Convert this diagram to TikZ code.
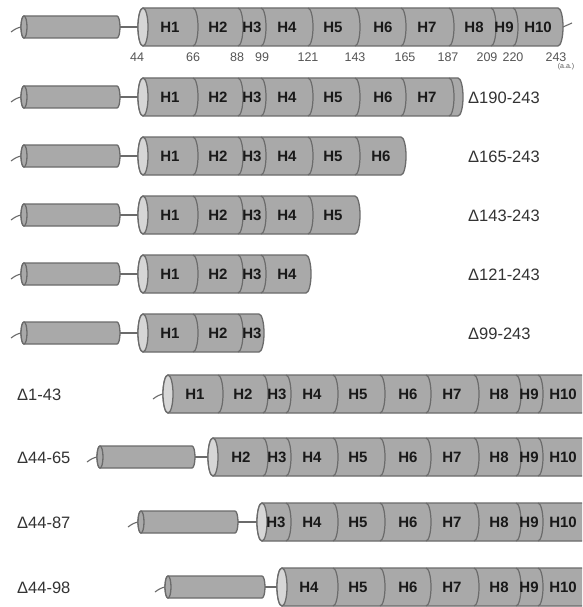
\documentclass[tikz,border=0pt]{standalone}
\usepackage{fontspec}
\setmainfont{Liberation Sans}
\definecolor{cylgray}{HTML}{A9A9A9}
\definecolor{cyledge}{HTML}{6B6B6B}
\definecolor{cylface}{HTML}{D6D6D6}
\definecolor{labgray}{HTML}{333333}
\definecolor{tickgray}{HTML}{555555}
\newcommand{\BigBody}[3]{% x0, x1, yc
  \draw[cylbody] (#1,#3-19) -- (#2,#3-19) arc[start angle=-90,end angle=90,x radius=5,y radius=19] -- (#1,#3+19) arc[start angle=90,end angle=270,x radius=5,y radius=19] -- cycle;
  \draw[cylbody,fill=cylface] (#1,#3) ellipse[x radius=5,y radius=19];
}
\newcommand{\SmallBody}[3]{% x0, x1, yc
  \draw[cylbody] (#1,#3-11) -- (#2,#3-11) arc[start angle=-90,end angle=90,x radius=3,y radius=11] -- (#1,#3+11) arc[start angle=90,end angle=270,x radius=3,y radius=11] -- cycle;
  \draw[cylbody] (#1,#3) ellipse[x radius=3,y radius=11];
}
\newcommand{\Bounds}[2]{% yc, list
  \foreach \b in {#2} \draw[segline] (\b,#1-19) arc[start angle=-90,end angle=90,x radius=5,y radius=19];
}
\newcommand{\HLabels}[3]{% row id, yc, list x/text
  \foreach \xx/\t in {#3} \node[hlab] (#1-\t) at (\xx,#2) {\t};
}
\newcommand{\Tail}[2]{% x (attach point), yc
  \draw[tail] (#1-10,#2+5) .. controls (#1-6,#2+2) and (#1-4,#2+1) .. (#1,#2);
}
\begin{document}
\begin{tikzpicture}[x=1pt,y=-1pt,
  cylbody/.style={fill=cylgray,draw=cyledge,line width=1.3pt},
  segline/.style={draw=cyledge,line width=1.2pt},
  linker/.style={draw=cyledge,line width=1.3pt},
  tail/.style={draw=cyledge,line width=1.1pt},
  hlab/.style={font=\fontsize{15}{15}\selectfont\bfseries,text=black!90,inner sep=0pt},
  dlab/.style={font=\fontsize{16.5}{16.5}\selectfont,text=labgray,inner sep=0pt,anchor=west},
  tick/.style={font=\fontsize{12.5}{13}\selectfont,text=tickgray,inner sep=0pt}]
\useasboundingbox (0,0) rectangle (582,607);
\fill[white] (0,0) rectangle (582,607);
\clip (0,0) rectangle (582,607);

% ---------- Row 1: full length ----------
\Tail{21}{27}
\SmallBody{24}{117}{27}
\coordinate (s1) at (120,27); \coordinate (b1) at (138,27);
\draw[linker] (s1) -- (b1);
\BigBody{143}{558}{27}
\Bounds{27}{193,238,261,308,355,401,449,491,513}
\HLabels{r1}{27}{170/H1,218/H2,252/H3,287/H4,333/H5,383/H6,427/H7,474/H8,504/H9,538/H10}
\coordinate (t1a) at (563,27); \coordinate (t1b) at (572,23);
\draw[tail] (t1a) .. controls (566,26) and (569,24) .. (t1b);
\foreach \xx/\n in {137/44,193/66,237/88,262/99,308/121,355/143,405/165,448/187,487/209,513/220,556/243}
  \node[tick] (tk\n) at (\xx,57) {\n};
\node[font=\fontsize{7}{7}\selectfont,text=tickgray,inner sep=0pt] (aa) at (566,67) {(a.a.)};

% ---------- Row 2: D190-243 ----------
\Tail{21}{97}
\SmallBody{24}{117}{97}
\coordinate (s2) at (120,97); \coordinate (b2) at (138,97);
\draw[linker] (s2) -- (b2);
\BigBody{143}{458}{97}
\Bounds{97}{193,238,261,308,355,401,449}
\HLabels{r2}{97}{170/H1,218/H2,252/H3,287/H4,333/H5,383/H6,427/H7}
\node[dlab] (l2) at (468,98) {Δ190-243};

% ---------- Row 3: D165-243 ----------
\Tail{21}{156}
\SmallBody{24}{117}{156}
\coordinate (s3) at (120,156); \coordinate (b3) at (138,156);
\draw[linker] (s3) -- (b3);
\BigBody{143}{401}{156}
\Bounds{156}{193,238,261,308,355}
\HLabels{r3}{156}{170/H1,218/H2,252/H3,287/H4,333/H5,381/H6}
\node[dlab] (l3) at (468,157) {Δ165-243};

% ---------- Row 4: D143-243 ----------
\Tail{21}{215}
\SmallBody{24}{117}{215}
\coordinate (s4) at (120,215); \coordinate (b4) at (138,215);
\draw[linker] (s4) -- (b4);
\BigBody{143}{355}{215}
\Bounds{215}{193,238,261,308}
\HLabels{r4}{215}{170/H1,218/H2,252/H3,287/H4,333/H5}
\node[dlab] (l4) at (468,216) {Δ143-243};

% ---------- Row 5: D121-243 ----------
\Tail{21}{274}
\SmallBody{24}{117}{274}
\coordinate (s5) at (120,274); \coordinate (b5) at (138,274);
\draw[linker] (s5) -- (b5);
\BigBody{143}{306}{274}
\Bounds{274}{193,238,261}
\HLabels{r5}{274}{170/H1,218/H2,252/H3,287/H4}
\node[dlab] (l5) at (468,275) {Δ121-243};

% ---------- Row 6: D99-243 ----------
\Tail{21}{333}
\SmallBody{24}{117}{333}
\coordinate (s6) at (120,333); \coordinate (b6) at (138,333);
\draw[linker] (s6) -- (b6);
\BigBody{143}{259}{333}
\Bounds{333}{193,238}
\HLabels{r6}{333}{170/H1,218/H2,252/H3}
\node[dlab] (l6) at (468,334) {Δ99-243};

% ---------- Row 7: D1-43 ----------
\node[dlab] (l7) at (17,395) {Δ1-43};
\Tail{163}{394}
\BigBody{168}{583}{394}
\Bounds{394}{218,263,286,333,380,426,474,516,538}
\HLabels{r7}{394}{195/H1,243/H2,277/H3,312/H4,358/H5,408/H6,452/H7,499/H8,529/H9,563/H10}

% ---------- Row 8: D44-65 ----------
\node[dlab] (l8) at (17,458) {Δ44-65};
\Tail{97}{457}
\SmallBody{100}{192}{457}
\coordinate (s8) at (195,457); \coordinate (b8) at (208,457);
\draw[linker] (s8) -- (b8);
\BigBody{213}{583}{457}
\Bounds{457}{263,286,333,380,426,474,516,538}
\HLabels{r8}{457}{241/H2,277/H3,312/H4,358/H5,408/H6,452/H7,499/H8,529/H9,563/H10}

% ---------- Row 9: D44-87 ----------
\node[dlab] (l9) at (17,523) {Δ44-87};
\Tail{138}{522}
\SmallBody{141}{235}{522}
\coordinate (s9) at (238,522); \coordinate (b9) at (257,522);
\draw[linker] (s9) -- (b9);
\BigBody{262}{583}{522}
\Bounds{522}{286,333,380,426,474,516,538}
\HLabels{r9}{522}{276/H3,312/H4,358/H5,408/H6,452/H7,499/H8,529/H9,563/H10}

% ---------- Row 10: D44-98 ----------
\node[dlab] (l10) at (17,588) {Δ44-98};
\Tail{165}{587}
\SmallBody{168}{262}{587}
\coordinate (s10) at (265,587); \coordinate (b10) at (277,587);
\draw[linker] (s10) -- (b10);
\BigBody{282}{583}{587}
\Bounds{587}{333,380,426,474,516,538}
\HLabels{r10}{587}{309/H4,358/H5,408/H6,452/H7,499/H8,529/H9,563/H10}
\end{tikzpicture}
\end{document}
